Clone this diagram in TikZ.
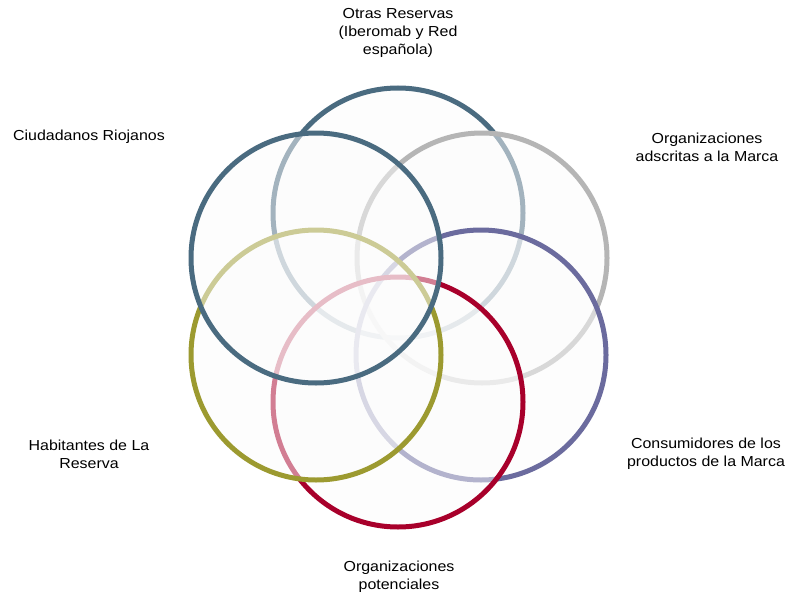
\documentclass[tikz,border=0pt]{standalone}
\usepackage{fontspec}
\setmainfont{Liberation Sans}[FakeStretch=1.1]
\definecolor{cblue}{HTML}{4A6B80}
\definecolor{cgray}{HTML}{B5B5B5}
\definecolor{cpurple}{HTML}{6B6B9E}
\definecolor{cred}{HTML}{A8002B}
\definecolor{colive}{HTML}{9C9A30}
\definecolor{cfill}{HTML}{FCFCFC}
\tikzset{
  ring/.style={line width=5pt},
  veil/.style={fill=cfill, fill opacity=0.5},
  lbl/.style={align=center, font=\fontsize{14.5}{18}\selectfont, text=black, inner sep=0pt}
}
\begin{document}
\begin{tikzpicture}[x=1pt,y=-1pt]
\useasboundingbox (0,0) rectangle (790,594);
\fill[white] (0,0) rectangle (790,594);
\def\R{125}
% 1 top
\fill[veil] (398,213) circle (\R);
\draw[ring,cblue] (398,213) circle (\R);
% 2 upper right
\fill[veil] (482,258) circle (\R);
\draw[ring,cgray] (482,258) circle (\R);
% 3 lower right
\fill[veil] (481,355) circle (\R);
\draw[ring,cpurple] (481,355) circle (\R);
% 4 bottom
\fill[veil] (398,402) circle (\R);
\draw[ring,cred] (398,402) circle (\R);
% 5 lower left
\fill[veil] (316,355) circle (\R);
\draw[ring,colive] (316,355) circle (\R);
% 6 upper left
\fill[veil] (316,258) circle (\R);
\draw[ring,cblue] (316,258) circle (\R);
% labels
\node[lbl] (top) at (398,33) {Otras Reservas\\(Iberomab y Red\\española)};
\node[lbl] (ul) at (89,137) {Ciudadanos Riojanos};
\node[lbl] (ur) at (707,147) {Organizaciones\\adscritas a la Marca};
\node[lbl] (ll) at (89,454) {Habitantes de La\\Reserva};
\node[lbl] (lr) at (706,454) {Consumidores de los\\productos de la Marca};
\node[lbl] (bot) at (399,577) {Organizaciones\\potenciales};
\end{tikzpicture}
\end{document}
